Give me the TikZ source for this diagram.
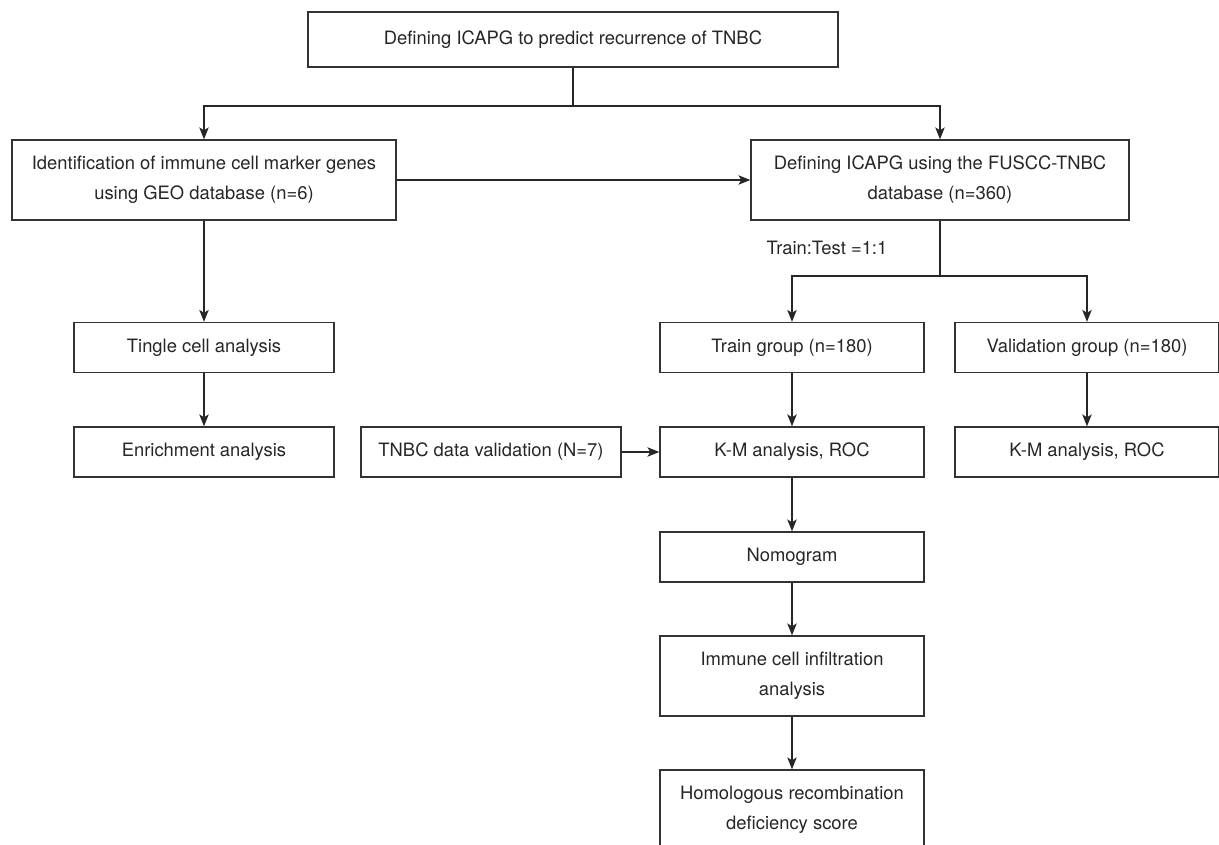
\documentclass[tikz,border=0pt]{standalone}
\usepackage{fontspec}
\setmainfont{TeX Gyre Heros}
\usetikzlibrary{positioning, arrows.meta}
\tikzset{
    box/.style={draw=black!80, line width=1.3pt, text=black!85, align=center, inner sep=0pt, minimum width=264pt, minimum height=50pt, font=\fontsize{18.4}{30}\selectfont}, % every step of the flow
    tall/.style={minimum height=80pt}, % boxes with two lines of text
    link/.style={draw=black!85, line width=1.1pt},
    arrow/.style={link, -{Stealth[length=12pt, width=9.5pt, inset=3pt]}},
    lbl/.style={text=black!85, inner sep=0pt, font=\fontsize{18.4}{30}\selectfont},
}

\begin{document}
\begin{tikzpicture}[x=1pt, y=-1pt, on grid, node distance=105pt]
    \useasboundingbox (0,0) rectangle (1219,845);

    % Blocchi
    \node[box, minimum width=530pt, minimum height=55pt] (top) at (573,39.5) {Defining ICAPG to predict recurrence of TNBC};
    \node[box, tall, minimum width=384pt] (ident) at (204,180) {Identification of immune cell marker genes\\using GEO database (n=6)};
    \node[box, tall, minimum width=378pt] (defn) [right=736pt of ident] {Defining ICAPG using the FUSCC-TNBC\\database (n=360)};
    \node[box, minimum width=260pt] (tingle) [below=167.5pt of ident] {Tingle cell analysis};
    \node[box, minimum width=260pt] (enrich) [below=104.5pt of tingle] {Enrichment analysis};
    \node[box] (train) at (792,347.5) {Train group (n=180)};
    \node[box] (valid) [right=295pt of train] {Validation group (n=180)};
    \node[box] (km) [below=104.5pt of train] {K-M analysis, ROC};
    \node[box] (kmval) [below=104.5pt of valid] {K-M analysis, ROC};
    \node[box, minimum width=260pt] (tnbc) [left=301pt of km] {TNBC data validation (N=7)};
    \node[box] (nomo) [below=of km] {Nomogram};
    \node[box, tall] (immune) [below=119pt of nomo] {Immune cell infiltration\\analysis};
    \node[box, tall] (hrd) [below=134pt of immune] {Homologous recombination\\deficiency score};
    \node[lbl] (ratio) at (827,248) {Train:Test =1:1};

    % Diramazioni
    \coordinate (split) at (573,106);
    \coordinate (fork) at (940,276);

    % Frecce
    \draw[link] (top) -- (split);
    \draw[arrow] (split) -| (ident);
    \draw[arrow] (split) -| (defn);
    \draw[arrow] (ident) -- (defn);
    \draw[arrow] (ident) -- (tingle);
    \draw[arrow] (tingle) -- (enrich);
    \draw[link] (defn) -- (fork);
    \draw[arrow] (fork) -| (train);
    \draw[arrow] (fork) -| (valid);
    \draw[arrow] (train) -- (km);
    \draw[arrow] (valid) -- (kmval);
    \draw[arrow] (tnbc) -- (km);
    \draw[arrow] (km) -- (nomo);
    \draw[arrow] (nomo) -- (immune);
    \draw[arrow] (immune) -- (hrd);
\end{tikzpicture}
\end{document}
